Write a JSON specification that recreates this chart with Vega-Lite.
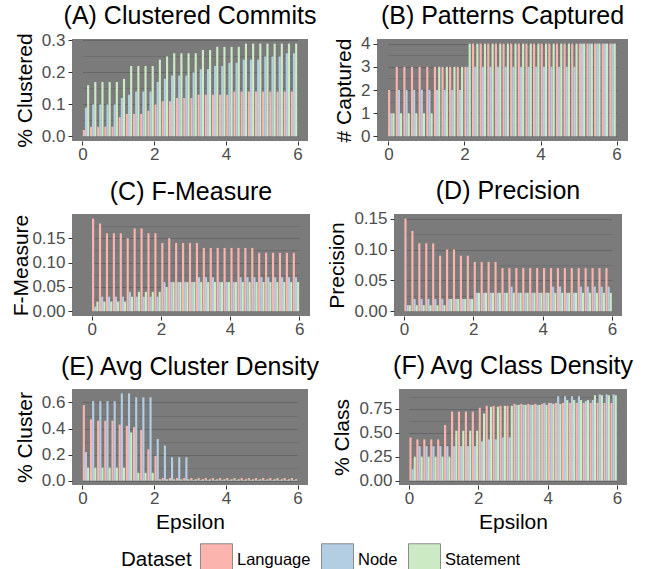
{
"$schema": "https://vega.github.io/schema/vega-lite/v6.json",
"padding": {"left": 10, "top": 4, "right": 5, "bottom": 5},
"config": {
  "font": "Liberation Sans",
  "view": {"fill": "#7b7b7b", "stroke": null},
  "axis": {"labelFont": "Liberation Sans", "titleFont": "Liberation Sans", "labelFontSize": 17, "labelColor": "#4d4d4d", "titleFontSize": 21, "titleFontWeight": "normal", "titleColor": "#000000", "tickColor": "#333333", "tickSize": 4, "tickWidth": 1, "domain": false, "gridColor": "#666666", "labelPadding": 1, "titlePadding": 5, "labelFlush": false, "labelOverlap": false},
  "axisY": {"labelPadding": 3, "titlePadding": 6},
  "title": {"font": "Liberation Sans", "fontSize": 25, "fontWeight": "normal", "color": "#000000", "frame": "group", "anchor": "middle", "baseline": "alphabetic"},
  "legend": {"labelFont": "Liberation Sans", "titleFont": "Liberation Sans"}
},
"datasets": {
"A": [
{"e":0.1,"d":"Language","v":0.02},{"e":0.3,"d":"Language","v":0.03},{"e":0.5,"d":"Language","v":0.03},{"e":0.7,"d":"Language","v":0.03},{"e":0.9,"d":"Language","v":0.03},{"e":1.1,"d":"Language","v":0.06},{"e":1.3,"d":"Language","v":0.07},{"e":1.5,"d":"Language","v":0.07},{"e":1.7,"d":"Language","v":0.07},{"e":1.9,"d":"Language","v":0.08},{"e":2.1,"d":"Language","v":0.10},{"e":2.3,"d":"Language","v":0.11},{"e":2.5,"d":"Language","v":0.11},{"e":2.7,"d":"Language","v":0.12},{"e":2.9,"d":"Language","v":0.12},{"e":3.1,"d":"Language","v":0.12},{"e":3.3,"d":"Language","v":0.13},{"e":3.5,"d":"Language","v":0.13},{"e":3.7,"d":"Language","v":0.13},{"e":3.9,"d":"Language","v":0.13},{"e":4.1,"d":"Language","v":0.13},{"e":4.3,"d":"Language","v":0.14},{"e":4.5,"d":"Language","v":0.14},{"e":4.7,"d":"Language","v":0.14},{"e":4.9,"d":"Language","v":0.14},{"e":5.1,"d":"Language","v":0.14},{"e":5.3,"d":"Language","v":0.14},{"e":5.5,"d":"Language","v":0.14},{"e":5.7,"d":"Language","v":0.14},{"e":5.9,"d":"Language","v":0.14},
{"e":0.1,"d":"Node","v":0.09},{"e":0.3,"d":"Node","v":0.10},{"e":0.5,"d":"Node","v":0.10},{"e":0.7,"d":"Node","v":0.10},{"e":0.9,"d":"Node","v":0.10},{"e":1.1,"d":"Node","v":0.12},{"e":1.3,"d":"Node","v":0.13},{"e":1.5,"d":"Node","v":0.14},{"e":1.7,"d":"Node","v":0.14},{"e":1.9,"d":"Node","v":0.14},{"e":2.1,"d":"Node","v":0.17},{"e":2.3,"d":"Node","v":0.18},{"e":2.5,"d":"Node","v":0.19},{"e":2.7,"d":"Node","v":0.19},{"e":2.9,"d":"Node","v":0.19},{"e":3.1,"d":"Node","v":0.20},{"e":3.3,"d":"Node","v":0.21},{"e":3.5,"d":"Node","v":0.21},{"e":3.7,"d":"Node","v":0.22},{"e":3.9,"d":"Node","v":0.22},{"e":4.1,"d":"Node","v":0.23},{"e":4.3,"d":"Node","v":0.23},{"e":4.5,"d":"Node","v":0.24},{"e":4.7,"d":"Node","v":0.24},{"e":4.9,"d":"Node","v":0.24},{"e":5.1,"d":"Node","v":0.25},{"e":5.3,"d":"Node","v":0.25},{"e":5.5,"d":"Node","v":0.25},{"e":5.7,"d":"Node","v":0.26},{"e":5.9,"d":"Node","v":0.26},
{"e":0.1,"d":"Statement","v":0.16},{"e":0.3,"d":"Statement","v":0.17},{"e":0.5,"d":"Statement","v":0.17},{"e":0.7,"d":"Statement","v":0.17},{"e":0.9,"d":"Statement","v":0.17},{"e":1.1,"d":"Statement","v":0.18},{"e":1.3,"d":"Statement","v":0.22},{"e":1.5,"d":"Statement","v":0.22},{"e":1.7,"d":"Statement","v":0.22},{"e":1.9,"d":"Statement","v":0.22},{"e":2.1,"d":"Statement","v":0.24},{"e":2.3,"d":"Statement","v":0.25},{"e":2.5,"d":"Statement","v":0.26},{"e":2.7,"d":"Statement","v":0.26},{"e":2.9,"d":"Statement","v":0.26},{"e":3.1,"d":"Statement","v":0.26},{"e":3.3,"d":"Statement","v":0.27},{"e":3.5,"d":"Statement","v":0.27},{"e":3.7,"d":"Statement","v":0.28},{"e":3.9,"d":"Statement","v":0.28},{"e":4.1,"d":"Statement","v":0.28},{"e":4.3,"d":"Statement","v":0.28},{"e":4.5,"d":"Statement","v":0.29},{"e":4.7,"d":"Statement","v":0.29},{"e":4.9,"d":"Statement","v":0.29},{"e":5.1,"d":"Statement","v":0.29},{"e":5.3,"d":"Statement","v":0.29},{"e":5.5,"d":"Statement","v":0.29},{"e":5.7,"d":"Statement","v":0.29},{"e":5.9,"d":"Statement","v":0.29}
],
"B": [
{"e":0.1,"d":"Language","v":2},{"e":0.3,"d":"Language","v":3},{"e":0.5,"d":"Language","v":3},{"e":0.7,"d":"Language","v":3},{"e":0.9,"d":"Language","v":3},{"e":1.1,"d":"Language","v":3},{"e":1.3,"d":"Language","v":3},{"e":1.5,"d":"Language","v":3},{"e":1.7,"d":"Language","v":3},{"e":1.9,"d":"Language","v":3},{"e":2.1,"d":"Language","v":3},{"e":2.3,"d":"Language","v":4},{"e":2.5,"d":"Language","v":4},{"e":2.7,"d":"Language","v":4},{"e":2.9,"d":"Language","v":4},{"e":3.1,"d":"Language","v":4},{"e":3.3,"d":"Language","v":4},{"e":3.5,"d":"Language","v":4},{"e":3.7,"d":"Language","v":4},{"e":3.9,"d":"Language","v":4},{"e":4.1,"d":"Language","v":4},{"e":4.3,"d":"Language","v":4},{"e":4.5,"d":"Language","v":4},{"e":4.7,"d":"Language","v":4},{"e":4.9,"d":"Language","v":4},{"e":5.1,"d":"Language","v":4},{"e":5.3,"d":"Language","v":4},{"e":5.5,"d":"Language","v":4},{"e":5.7,"d":"Language","v":4},{"e":5.9,"d":"Language","v":4},
{"e":0.1,"d":"Node","v":1},{"e":0.3,"d":"Node","v":2},{"e":0.5,"d":"Node","v":2},{"e":0.7,"d":"Node","v":2},{"e":0.9,"d":"Node","v":2},{"e":1.1,"d":"Node","v":2},{"e":1.3,"d":"Node","v":2},{"e":1.5,"d":"Node","v":2},{"e":1.7,"d":"Node","v":2},{"e":1.9,"d":"Node","v":2},{"e":2.1,"d":"Node","v":3},{"e":2.3,"d":"Node","v":3},{"e":2.5,"d":"Node","v":3},{"e":2.7,"d":"Node","v":3},{"e":2.9,"d":"Node","v":3},{"e":3.1,"d":"Node","v":3},{"e":3.3,"d":"Node","v":3},{"e":3.5,"d":"Node","v":3},{"e":3.7,"d":"Node","v":3},{"e":3.9,"d":"Node","v":3},{"e":4.1,"d":"Node","v":3},{"e":4.3,"d":"Node","v":3},{"e":4.5,"d":"Node","v":3},{"e":4.7,"d":"Node","v":3},{"e":4.9,"d":"Node","v":3},{"e":5.1,"d":"Node","v":4},{"e":5.3,"d":"Node","v":4},{"e":5.5,"d":"Node","v":4},{"e":5.7,"d":"Node","v":4},{"e":5.9,"d":"Node","v":4},
{"e":0.1,"d":"Statement","v":1},{"e":0.3,"d":"Statement","v":1},{"e":0.5,"d":"Statement","v":1},{"e":0.7,"d":"Statement","v":1},{"e":0.9,"d":"Statement","v":1},{"e":1.1,"d":"Statement","v":1},{"e":1.3,"d":"Statement","v":3},{"e":1.5,"d":"Statement","v":3},{"e":1.7,"d":"Statement","v":3},{"e":1.9,"d":"Statement","v":3},{"e":2.1,"d":"Statement","v":4},{"e":2.3,"d":"Statement","v":4},{"e":2.5,"d":"Statement","v":4},{"e":2.7,"d":"Statement","v":4},{"e":2.9,"d":"Statement","v":4},{"e":3.1,"d":"Statement","v":4},{"e":3.3,"d":"Statement","v":4},{"e":3.5,"d":"Statement","v":4},{"e":3.7,"d":"Statement","v":4},{"e":3.9,"d":"Statement","v":4},{"e":4.1,"d":"Statement","v":4},{"e":4.3,"d":"Statement","v":4},{"e":4.5,"d":"Statement","v":4},{"e":4.7,"d":"Statement","v":4},{"e":4.9,"d":"Statement","v":4},{"e":5.1,"d":"Statement","v":4},{"e":5.3,"d":"Statement","v":4},{"e":5.5,"d":"Statement","v":4},{"e":5.7,"d":"Statement","v":4},{"e":5.9,"d":"Statement","v":4}
],
"C": [
{"e":0.1,"d":"Language","v":0.19},{"e":0.3,"d":"Language","v":0.18},{"e":0.5,"d":"Language","v":0.16},{"e":0.7,"d":"Language","v":0.16},{"e":0.9,"d":"Language","v":0.16},{"e":1.1,"d":"Language","v":0.15},{"e":1.3,"d":"Language","v":0.17},{"e":1.5,"d":"Language","v":0.17},{"e":1.7,"d":"Language","v":0.16},{"e":1.9,"d":"Language","v":0.16},{"e":2.1,"d":"Language","v":0.14},{"e":2.3,"d":"Language","v":0.15},{"e":2.5,"d":"Language","v":0.14},{"e":2.7,"d":"Language","v":0.14},{"e":2.9,"d":"Language","v":0.14},{"e":3.1,"d":"Language","v":0.14},{"e":3.3,"d":"Language","v":0.13},{"e":3.5,"d":"Language","v":0.13},{"e":3.7,"d":"Language","v":0.13},{"e":3.9,"d":"Language","v":0.13},{"e":4.1,"d":"Language","v":0.13},{"e":4.3,"d":"Language","v":0.13},{"e":4.5,"d":"Language","v":0.13},{"e":4.7,"d":"Language","v":0.13},{"e":4.9,"d":"Language","v":0.12},{"e":5.1,"d":"Language","v":0.12},{"e":5.3,"d":"Language","v":0.12},{"e":5.5,"d":"Language","v":0.12},{"e":5.7,"d":"Language","v":0.12},{"e":5.9,"d":"Language","v":0.12},
{"e":0.1,"d":"Node","v":0.01},{"e":0.3,"d":"Node","v":0.03},{"e":0.5,"d":"Node","v":0.03},{"e":0.7,"d":"Node","v":0.03},{"e":0.9,"d":"Node","v":0.03},{"e":1.1,"d":"Node","v":0.04},{"e":1.3,"d":"Node","v":0.03},{"e":1.5,"d":"Node","v":0.03},{"e":1.7,"d":"Node","v":0.03},{"e":1.9,"d":"Node","v":0.03},{"e":2.1,"d":"Node","v":0.06},{"e":2.3,"d":"Node","v":0.06},{"e":2.5,"d":"Node","v":0.06},{"e":2.7,"d":"Node","v":0.06},{"e":2.9,"d":"Node","v":0.06},{"e":3.1,"d":"Node","v":0.07},{"e":3.3,"d":"Node","v":0.07},{"e":3.5,"d":"Node","v":0.07},{"e":3.7,"d":"Node","v":0.06},{"e":3.9,"d":"Node","v":0.06},{"e":4.1,"d":"Node","v":0.06},{"e":4.3,"d":"Node","v":0.07},{"e":4.5,"d":"Node","v":0.07},{"e":4.7,"d":"Node","v":0.07},{"e":4.9,"d":"Node","v":0.07},{"e":5.1,"d":"Node","v":0.07},{"e":5.3,"d":"Node","v":0.07},{"e":5.5,"d":"Node","v":0.07},{"e":5.7,"d":"Node","v":0.07},{"e":5.9,"d":"Node","v":0.07},
{"e":0.1,"d":"Statement","v":0.02},{"e":0.3,"d":"Statement","v":0.02},{"e":0.5,"d":"Statement","v":0.02},{"e":0.7,"d":"Statement","v":0.02},{"e":0.9,"d":"Statement","v":0.02},{"e":1.1,"d":"Statement","v":0.03},{"e":1.3,"d":"Statement","v":0.04},{"e":1.5,"d":"Statement","v":0.04},{"e":1.7,"d":"Statement","v":0.04},{"e":1.9,"d":"Statement","v":0.04},{"e":2.1,"d":"Statement","v":0.05},{"e":2.3,"d":"Statement","v":0.06},{"e":2.5,"d":"Statement","v":0.06},{"e":2.7,"d":"Statement","v":0.06},{"e":2.9,"d":"Statement","v":0.06},{"e":3.1,"d":"Statement","v":0.06},{"e":3.3,"d":"Statement","v":0.06},{"e":3.5,"d":"Statement","v":0.06},{"e":3.7,"d":"Statement","v":0.06},{"e":3.9,"d":"Statement","v":0.06},{"e":4.1,"d":"Statement","v":0.06},{"e":4.3,"d":"Statement","v":0.06},{"e":4.5,"d":"Statement","v":0.06},{"e":4.7,"d":"Statement","v":0.06},{"e":4.9,"d":"Statement","v":0.06},{"e":5.1,"d":"Statement","v":0.06},{"e":5.3,"d":"Statement","v":0.06},{"e":5.5,"d":"Statement","v":0.06},{"e":5.7,"d":"Statement","v":0.06},{"e":5.9,"d":"Statement","v":0.06}
],
"D": [
{"e":0.1,"d":"Language","v":0.15},{"e":0.3,"d":"Language","v":0.13},{"e":0.5,"d":"Language","v":0.11},{"e":0.7,"d":"Language","v":0.11},{"e":0.9,"d":"Language","v":0.11},{"e":1.1,"d":"Language","v":0.09},{"e":1.3,"d":"Language","v":0.10},{"e":1.5,"d":"Language","v":0.10},{"e":1.7,"d":"Language","v":0.09},{"e":1.9,"d":"Language","v":0.09},{"e":2.1,"d":"Language","v":0.08},{"e":2.3,"d":"Language","v":0.08},{"e":2.5,"d":"Language","v":0.08},{"e":2.7,"d":"Language","v":0.08},{"e":2.9,"d":"Language","v":0.07},{"e":3.1,"d":"Language","v":0.07},{"e":3.3,"d":"Language","v":0.07},{"e":3.5,"d":"Language","v":0.07},{"e":3.7,"d":"Language","v":0.07},{"e":3.9,"d":"Language","v":0.07},{"e":4.1,"d":"Language","v":0.07},{"e":4.3,"d":"Language","v":0.07},{"e":4.5,"d":"Language","v":0.07},{"e":4.7,"d":"Language","v":0.07},{"e":4.9,"d":"Language","v":0.07},{"e":5.1,"d":"Language","v":0.07},{"e":5.3,"d":"Language","v":0.07},{"e":5.5,"d":"Language","v":0.07},{"e":5.7,"d":"Language","v":0.07},{"e":5.9,"d":"Language","v":0.07},
{"e":0.1,"d":"Node","v":0.01},{"e":0.3,"d":"Node","v":0.02},{"e":0.5,"d":"Node","v":0.02},{"e":0.7,"d":"Node","v":0.02},{"e":0.9,"d":"Node","v":0.02},{"e":1.1,"d":"Node","v":0.02},{"e":1.3,"d":"Node","v":0.02},{"e":1.5,"d":"Node","v":0.02},{"e":1.7,"d":"Node","v":0.02},{"e":1.9,"d":"Node","v":0.02},{"e":2.1,"d":"Node","v":0.03},{"e":2.3,"d":"Node","v":0.03},{"e":2.5,"d":"Node","v":0.03},{"e":2.7,"d":"Node","v":0.03},{"e":2.9,"d":"Node","v":0.03},{"e":3.1,"d":"Node","v":0.04},{"e":3.3,"d":"Node","v":0.03},{"e":3.5,"d":"Node","v":0.03},{"e":3.7,"d":"Node","v":0.03},{"e":3.9,"d":"Node","v":0.03},{"e":4.1,"d":"Node","v":0.03},{"e":4.3,"d":"Node","v":0.04},{"e":4.5,"d":"Node","v":0.04},{"e":4.7,"d":"Node","v":0.03},{"e":4.9,"d":"Node","v":0.03},{"e":5.1,"d":"Node","v":0.04},{"e":5.3,"d":"Node","v":0.04},{"e":5.5,"d":"Node","v":0.04},{"e":5.7,"d":"Node","v":0.04},{"e":5.9,"d":"Node","v":0.04},
{"e":0.1,"d":"Statement","v":0.01},{"e":0.3,"d":"Statement","v":0.01},{"e":0.5,"d":"Statement","v":0.01},{"e":0.7,"d":"Statement","v":0.01},{"e":0.9,"d":"Statement","v":0.01},{"e":1.1,"d":"Statement","v":0.01},{"e":1.3,"d":"Statement","v":0.02},{"e":1.5,"d":"Statement","v":0.02},{"e":1.7,"d":"Statement","v":0.02},{"e":1.9,"d":"Statement","v":0.02},{"e":2.1,"d":"Statement","v":0.03},{"e":2.3,"d":"Statement","v":0.03},{"e":2.5,"d":"Statement","v":0.03},{"e":2.7,"d":"Statement","v":0.03},{"e":2.9,"d":"Statement","v":0.03},{"e":3.1,"d":"Statement","v":0.03},{"e":3.3,"d":"Statement","v":0.03},{"e":3.5,"d":"Statement","v":0.03},{"e":3.7,"d":"Statement","v":0.03},{"e":3.9,"d":"Statement","v":0.03},{"e":4.1,"d":"Statement","v":0.03},{"e":4.3,"d":"Statement","v":0.03},{"e":4.5,"d":"Statement","v":0.03},{"e":4.7,"d":"Statement","v":0.03},{"e":4.9,"d":"Statement","v":0.03},{"e":5.1,"d":"Statement","v":0.03},{"e":5.3,"d":"Statement","v":0.03},{"e":5.5,"d":"Statement","v":0.03},{"e":5.7,"d":"Statement","v":0.03},{"e":5.9,"d":"Statement","v":0.03}
],
"E": [
{"e":0.1,"d":"Language","v":0.58},{"e":0.3,"d":"Language","v":0.47},{"e":0.5,"d":"Language","v":0.46},{"e":0.7,"d":"Language","v":0.46},{"e":0.9,"d":"Language","v":0.46},{"e":1.1,"d":"Language","v":0.43},{"e":1.3,"d":"Language","v":0.42},{"e":1.5,"d":"Language","v":0.41},{"e":1.7,"d":"Language","v":0.39},{"e":1.9,"d":"Language","v":0.24},{"e":2.1,"d":"Language","v":0.19},{"e":2.3,"d":"Language","v":0.02},{"e":2.5,"d":"Language","v":0.02},{"e":2.7,"d":"Language","v":0.02},{"e":2.9,"d":"Language","v":0.02},{"e":3.1,"d":"Language","v":0.02},{"e":3.3,"d":"Language","v":0.02},{"e":3.5,"d":"Language","v":0.02},{"e":3.7,"d":"Language","v":0.02},{"e":3.9,"d":"Language","v":0.02},{"e":4.1,"d":"Language","v":0.02},{"e":4.3,"d":"Language","v":0.02},{"e":4.5,"d":"Language","v":0.02},{"e":4.7,"d":"Language","v":0.02},{"e":4.9,"d":"Language","v":0.02},{"e":5.1,"d":"Language","v":0.02},{"e":5.3,"d":"Language","v":0.02},{"e":5.5,"d":"Language","v":0.02},{"e":5.7,"d":"Language","v":0.02},{"e":5.9,"d":"Language","v":0.02},
{"e":0.1,"d":"Node","v":0.22},{"e":0.3,"d":"Node","v":0.61},{"e":0.5,"d":"Node","v":0.61},{"e":0.7,"d":"Node","v":0.61},{"e":0.9,"d":"Node","v":0.61},{"e":1.1,"d":"Node","v":0.67},{"e":1.3,"d":"Node","v":0.67},{"e":1.5,"d":"Node","v":0.64},{"e":1.7,"d":"Node","v":0.64},{"e":1.9,"d":"Node","v":0.64},{"e":2.1,"d":"Node","v":0.32},{"e":2.3,"d":"Node","v":0.27},{"e":2.5,"d":"Node","v":0.18},{"e":2.7,"d":"Node","v":0.18},{"e":2.9,"d":"Node","v":0.18},{"e":3.1,"d":"Node","v":0.005},{"e":3.3,"d":"Node","v":0.005},{"e":3.5,"d":"Node","v":0.005},{"e":3.7,"d":"Node","v":0.005},{"e":3.9,"d":"Node","v":0.005},{"e":4.1,"d":"Node","v":0.005},{"e":4.3,"d":"Node","v":0.005},{"e":4.5,"d":"Node","v":0.005},{"e":4.7,"d":"Node","v":0.005},{"e":4.9,"d":"Node","v":0.005},{"e":5.1,"d":"Node","v":0.005},{"e":5.3,"d":"Node","v":0.005},{"e":5.5,"d":"Node","v":0.005},{"e":5.7,"d":"Node","v":0.005},{"e":5.9,"d":"Node","v":0.005},
{"e":0.1,"d":"Statement","v":0.10},{"e":0.3,"d":"Statement","v":0.10},{"e":0.5,"d":"Statement","v":0.10},{"e":0.7,"d":"Statement","v":0.10},{"e":0.9,"d":"Statement","v":0.10},{"e":1.1,"d":"Statement","v":0.10},{"e":1.3,"d":"Statement","v":0.37},{"e":1.5,"d":"Statement","v":0.06},{"e":1.7,"d":"Statement","v":0.06},{"e":1.9,"d":"Statement","v":0.06},{"e":2.1,"d":"Statement","v":0.01},{"e":2.3,"d":"Statement","v":0.01},{"e":2.5,"d":"Statement","v":0.01},{"e":2.7,"d":"Statement","v":0.01},{"e":2.9,"d":"Statement","v":0.01},{"e":3.1,"d":"Statement","v":0.01},{"e":3.3,"d":"Statement","v":0.01},{"e":3.5,"d":"Statement","v":0.01},{"e":3.7,"d":"Statement","v":0.01},{"e":3.9,"d":"Statement","v":0.01},{"e":4.1,"d":"Statement","v":0.01},{"e":4.3,"d":"Statement","v":0.01},{"e":4.5,"d":"Statement","v":0.01},{"e":4.7,"d":"Statement","v":0.01},{"e":4.9,"d":"Statement","v":0.01},{"e":5.1,"d":"Statement","v":0.01},{"e":5.3,"d":"Statement","v":0.01},{"e":5.5,"d":"Statement","v":0.01},{"e":5.7,"d":"Statement","v":0.01},{"e":5.9,"d":"Statement","v":0.01}
],
"F": [
{"e":0.1,"d":"Language","v":0.45},{"e":0.3,"d":"Language","v":0.43},{"e":0.5,"d":"Language","v":0.43},{"e":0.7,"d":"Language","v":0.43},{"e":0.9,"d":"Language","v":0.43},{"e":1.1,"d":"Language","v":0.58},{"e":1.3,"d":"Language","v":0.72},{"e":1.5,"d":"Language","v":0.72},{"e":1.7,"d":"Language","v":0.72},{"e":1.9,"d":"Language","v":0.72},{"e":2.1,"d":"Language","v":0.76},{"e":2.3,"d":"Language","v":0.78},{"e":2.5,"d":"Language","v":0.78},{"e":2.7,"d":"Language","v":0.78},{"e":2.9,"d":"Language","v":0.78},{"e":3.1,"d":"Language","v":0.80},{"e":3.3,"d":"Language","v":0.80},{"e":3.5,"d":"Language","v":0.80},{"e":3.7,"d":"Language","v":0.80},{"e":3.9,"d":"Language","v":0.80},{"e":4.1,"d":"Language","v":0.81},{"e":4.3,"d":"Language","v":0.81},{"e":4.5,"d":"Language","v":0.81},{"e":4.7,"d":"Language","v":0.81},{"e":4.9,"d":"Language","v":0.81},{"e":5.1,"d":"Language","v":0.81},{"e":5.3,"d":"Language","v":0.81},{"e":5.5,"d":"Language","v":0.81},{"e":5.7,"d":"Language","v":0.81},{"e":5.9,"d":"Language","v":0.81},
{"e":0.1,"d":"Node","v":0.12},{"e":0.3,"d":"Node","v":0.36},{"e":0.5,"d":"Node","v":0.36},{"e":0.7,"d":"Node","v":0.36},{"e":0.9,"d":"Node","v":0.36},{"e":1.1,"d":"Node","v":0.36},{"e":1.3,"d":"Node","v":0.36},{"e":1.5,"d":"Node","v":0.36},{"e":1.7,"d":"Node","v":0.36},{"e":1.9,"d":"Node","v":0.36},{"e":2.1,"d":"Node","v":0.41},{"e":2.3,"d":"Node","v":0.43},{"e":2.5,"d":"Node","v":0.43},{"e":2.7,"d":"Node","v":0.45},{"e":2.9,"d":"Node","v":0.45},{"e":3.1,"d":"Node","v":0.79},{"e":3.3,"d":"Node","v":0.79},{"e":3.5,"d":"Node","v":0.79},{"e":3.7,"d":"Node","v":0.79},{"e":3.9,"d":"Node","v":0.81},{"e":4.1,"d":"Node","v":0.81},{"e":4.3,"d":"Node","v":0.88},{"e":4.5,"d":"Node","v":0.88},{"e":4.7,"d":"Node","v":0.88},{"e":4.9,"d":"Node","v":0.88},{"e":5.1,"d":"Node","v":0.83},{"e":5.3,"d":"Node","v":0.84},{"e":5.5,"d":"Node","v":0.90},{"e":5.7,"d":"Node","v":0.90},{"e":5.9,"d":"Node","v":0.90},
{"e":0.1,"d":"Statement","v":0.25},{"e":0.3,"d":"Statement","v":0.25},{"e":0.5,"d":"Statement","v":0.25},{"e":0.7,"d":"Statement","v":0.25},{"e":0.9,"d":"Statement","v":0.25},{"e":1.1,"d":"Statement","v":0.25},{"e":1.3,"d":"Statement","v":0.52},{"e":1.5,"d":"Statement","v":0.52},{"e":1.7,"d":"Statement","v":0.52},{"e":1.9,"d":"Statement","v":0.52},{"e":2.1,"d":"Statement","v":0.70},{"e":2.3,"d":"Statement","v":0.77},{"e":2.5,"d":"Statement","v":0.77},{"e":2.7,"d":"Statement","v":0.78},{"e":2.9,"d":"Statement","v":0.78},{"e":3.1,"d":"Statement","v":0.79},{"e":3.3,"d":"Statement","v":0.79},{"e":3.5,"d":"Statement","v":0.79},{"e":3.7,"d":"Statement","v":0.79},{"e":3.9,"d":"Statement","v":0.79},{"e":4.1,"d":"Statement","v":0.80},{"e":4.3,"d":"Statement","v":0.80},{"e":4.5,"d":"Statement","v":0.84},{"e":4.7,"d":"Statement","v":0.84},{"e":4.9,"d":"Statement","v":0.84},{"e":5.1,"d":"Statement","v":0.84},{"e":5.3,"d":"Statement","v":0.89},{"e":5.5,"d":"Statement","v":0.89},{"e":5.7,"d":"Statement","v":0.89},{"e":5.9,"d":"Statement","v":0.89}
]
},
"vconcat": [
{"hconcat": [
{"width": 236, "height": 102, "title": {"text": "(A) Clustered Commits", "offset": 2.4}, "data": {"name": "A"},
 "layer": [
  {"mark": {"type": "bar"}, "encoding": {
    "x": {"field": "e", "type": "ordinal", "scale": {"range": [10.4, 225.6], "paddingInner": 0.1, "paddingOuter": 0.05}, "axis": null},
    "xOffset": {"field": "d", "type": "nominal", "scale": {"domain": ["Language", "Node", "Statement"], "paddingInner": 0, "paddingOuter": 0}},
    "y": {"field": "v", "type": "quantitative", "scale": {"domain": [-0.0145, 0.3045], "nice": false, "zero": false}, "axis": {"title": "% Clustered", "values": [0, 0.05, 0.1, 0.15, 0.2, 0.25, 0.3], "labelExpr": "abs(datum.value*10 - round(datum.value*10)) < 1e-6 ? format(datum.value, '.1f') : ''", "tickOpacity": {"condition": {"test": "abs(datum.value*10 - round(datum.value*10)) < 1e-6", "value": 1}, "value": 0}, "gridWidth": {"condition": {"test": "abs(datum.value*10 - round(datum.value*10)) < 1e-6", "value": 1.2}, "value": 0.6}}},
    "y2": {"datum": 0},
    "color": {"field": "d", "type": "nominal", "scale": {"domain": ["Language", "Node", "Statement"], "range": ["#FBB4AE", "#B3CDE3", "#CCEBC5"]}, "legend": {"title": "Dataset", "orient": "none", "legendX": 49, "legendY": 504, "direction": "horizontal", "titleOrient": "left", "titleFontSize": 20.5, "titleFontWeight": "normal", "titleColor": "#000000", "titlePadding": 8, "titleBaseline": "middle", "labelFontSize": 16.5, "labelColor": "#000000", "labelOffset": 4, "columnPadding": 8, "symbolType": "square", "symbolSize": 1024, "symbolStrokeColor": "#8c8c8c", "symbolStrokeWidth": 1, "encode": {"symbols": {"update": {"stroke": {"value": "#8c8c8c"}, "strokeWidth": {"value": 1}}}}}}
  }},
  {"mark": {"type": "point", "opacity": 0}, "encoding": {
    "x": {"field": "e", "type": "quantitative", "scale": {"domain": [-0.29, 6.29], "nice": false, "zero": false}, "axis": {"title": null, "values": [0, 1, 2, 3, 4, 5, 6], "labelExpr": "datum.value % 2 == 0 ? format(datum.value, 'd') : ''", "tickOpacity": {"condition": {"test": "datum.value % 2 == 0", "value": 1}, "value": 0}, "gridWidth": {"condition": {"test": "datum.value % 2 == 0", "value": 1.2}, "value": 0.6}}}
  }}
 ],
 "resolve": {"scale": {"x": "independent"}}
},
{"width": 251, "height": 102, "title": {"text": "(B) Patterns Captured", "offset": 5.6}, "data": {"name": "B"},
 "layer": [
  {"mark": {"type": "bar"}, "encoding": {
    "x": {"field": "e", "type": "ordinal", "scale": {"range": [11.06, 239.94], "paddingInner": 0, "paddingOuter": 0}, "axis": null},
    "xOffset": {"field": "d", "type": "nominal", "scale": {"domain": ["Language", "Node", "Statement"], "paddingInner": 0, "paddingOuter": 0}},
    "y": {"field": "v", "type": "quantitative", "scale": {"domain": [-0.2, 4.2], "nice": false, "zero": false}, "axis": {"title": "# Captured", "values": [0, 0.5, 1, 1.5, 2, 2.5, 3, 3.5, 4], "labelExpr": "datum.value % 1 == 0 ? format(datum.value, 'd') : ''", "tickOpacity": {"condition": {"test": "datum.value % 1 == 0", "value": 1}, "value": 0}, "gridWidth": {"condition": {"test": "datum.value % 1 == 0", "value": 1.2}, "value": 0.6}}},
    "y2": {"datum": 0},
    "color": {"field": "d", "type": "nominal", "scale": {"domain": ["Language", "Node", "Statement"], "range": ["#FBB4AE", "#B3CDE3", "#CCEBC5"]}, "legend": {"title": "Dataset", "orient": "none", "legendX": 49, "legendY": 504, "direction": "horizontal", "titleOrient": "left", "titleFontSize": 20.5, "titleFontWeight": "normal", "titleColor": "#000000", "titlePadding": 8, "titleBaseline": "middle", "labelFontSize": 16.5, "labelColor": "#000000", "labelOffset": 4, "columnPadding": 8, "symbolType": "square", "symbolSize": 1024, "symbolStrokeColor": "#8c8c8c", "symbolStrokeWidth": 1, "encode": {"symbols": {"update": {"stroke": {"value": "#8c8c8c"}, "strokeWidth": {"value": 1}}}}}}
  }},
  {"mark": {"type": "point", "opacity": 0}, "encoding": {
    "x": {"field": "e", "type": "quantitative", "scale": {"domain": [-0.3, 6.3], "nice": false, "zero": false}, "axis": {"title": null, "values": [0, 1, 2, 3, 4, 5, 6], "labelExpr": "datum.value % 2 == 0 ? format(datum.value, 'd') : ''", "tickOpacity": {"condition": {"test": "datum.value % 2 == 0", "value": 1}, "value": 0}, "gridWidth": {"condition": {"test": "datum.value % 2 == 0", "value": 1.2}, "value": 0.6}}}
  }}
 ],
 "resolve": {"scale": {"x": "independent"}}
}
], "spacing": 16},
{"hconcat": [
{"width": 238, "height": 102, "title": {"text": "(C) F-Measure", "offset": 9.5}, "data": {"name": "C"},
 "layer": [
  {"mark": {"type": "bar"}, "encoding": {
    "x": {"field": "e", "type": "ordinal", "scale": {"range": [19.7, 227.3], "paddingInner": 0.1, "paddingOuter": 0.05}, "axis": null},
    "xOffset": {"field": "d", "type": "nominal", "scale": {"domain": ["Language", "Node", "Statement"], "paddingInner": 0, "paddingOuter": 0}},
    "y": {"field": "v", "type": "quantitative", "scale": {"domain": [-0.0095, 0.1995], "nice": false, "zero": false}, "axis": {"title": "F-Measure", "titlePadding": 0, "values": [0, 0.025, 0.05, 0.075, 0.1, 0.125, 0.15, 0.175], "labelExpr": "abs(datum.value*20 - round(datum.value*20)) < 1e-6 ? format(datum.value, '.2f') : ''", "tickOpacity": {"condition": {"test": "abs(datum.value*20 - round(datum.value*20)) < 1e-6", "value": 1}, "value": 0}, "gridWidth": {"condition": {"test": "abs(datum.value*20 - round(datum.value*20)) < 1e-6", "value": 1.2}, "value": 0.6}}},
    "y2": {"datum": 0},
    "color": {"field": "d", "type": "nominal", "scale": {"domain": ["Language", "Node", "Statement"], "range": ["#FBB4AE", "#B3CDE3", "#CCEBC5"]}, "legend": {"title": "Dataset", "orient": "none", "legendX": 49, "legendY": 504, "direction": "horizontal", "titleOrient": "left", "titleFontSize": 20.5, "titleFontWeight": "normal", "titleColor": "#000000", "titlePadding": 8, "titleBaseline": "middle", "labelFontSize": 16.5, "labelColor": "#000000", "labelOffset": 4, "columnPadding": 8, "symbolType": "square", "symbolSize": 1024, "symbolStrokeColor": "#8c8c8c", "symbolStrokeWidth": 1, "encode": {"symbols": {"update": {"stroke": {"value": "#8c8c8c"}, "strokeWidth": {"value": 1}}}}}}
  }},
  {"mark": {"type": "point", "opacity": 0}, "encoding": {
    "x": {"field": "e", "type": "quantitative", "scale": {"domain": [-0.569, 6.309], "nice": false, "zero": false}, "axis": {"title": null, "values": [0, 1, 2, 3, 4, 5, 6], "labelExpr": "datum.value % 2 == 0 ? format(datum.value, 'd') : ''", "tickOpacity": {"condition": {"test": "datum.value % 2 == 0", "value": 1}, "value": 0}, "gridWidth": {"condition": {"test": "datum.value % 2 == 0", "value": 1.2}, "value": 0.6}}}
  }}
 ],
 "resolve": {"scale": {"x": "independent"}}
},
{"width": 228, "height": 102, "title": {"text": "(D) Precision", "offset": 5.6}, "data": {"name": "D"},
 "layer": [
  {"mark": {"type": "bar"}, "encoding": {
    "x": {"field": "e", "type": "ordinal", "scale": {"range": [10.05, 217.95], "paddingInner": 0.1, "paddingOuter": 0.05}, "axis": null},
    "xOffset": {"field": "d", "type": "nominal", "scale": {"domain": ["Language", "Node", "Statement"], "paddingInner": 0, "paddingOuter": 0}},
    "y": {"field": "v", "type": "quantitative", "scale": {"domain": [-0.0075, 0.1575], "nice": false, "zero": false}, "axis": {"title": "Precision", "values": [0, 0.025, 0.05, 0.075, 0.1, 0.125, 0.15], "labelExpr": "abs(datum.value*20 - round(datum.value*20)) < 1e-6 ? format(datum.value, '.2f') : ''", "tickOpacity": {"condition": {"test": "abs(datum.value*20 - round(datum.value*20)) < 1e-6", "value": 1}, "value": 0}, "gridWidth": {"condition": {"test": "abs(datum.value*20 - round(datum.value*20)) < 1e-6", "value": 1.2}, "value": 0.6}}},
    "y2": {"datum": 0},
    "color": {"field": "d", "type": "nominal", "scale": {"domain": ["Language", "Node", "Statement"], "range": ["#FBB4AE", "#B3CDE3", "#CCEBC5"]}, "legend": {"title": "Dataset", "orient": "none", "legendX": 49, "legendY": 504, "direction": "horizontal", "titleOrient": "left", "titleFontSize": 20.5, "titleFontWeight": "normal", "titleColor": "#000000", "titlePadding": 8, "titleBaseline": "middle", "labelFontSize": 16.5, "labelColor": "#000000", "labelOffset": 4, "columnPadding": 8, "symbolType": "square", "symbolSize": 1024, "symbolStrokeColor": "#8c8c8c", "symbolStrokeWidth": 1, "encode": {"symbols": {"update": {"stroke": {"value": "#8c8c8c"}, "strokeWidth": {"value": 1}}}}}}
  }},
  {"mark": {"type": "point", "opacity": 0}, "encoding": {
    "x": {"field": "e", "type": "quantitative", "scale": {"domain": [-0.29, 6.29], "nice": false, "zero": false}, "axis": {"title": null, "values": [0, 1, 2, 3, 4, 5, 6], "labelExpr": "datum.value % 2 == 0 ? format(datum.value, 'd') : ''", "tickOpacity": {"condition": {"test": "datum.value % 2 == 0", "value": 1}, "value": 0}, "gridWidth": {"condition": {"test": "datum.value % 2 == 0", "value": 1.2}, "value": 0.6}}}
  }}
 ],
 "resolve": {"scale": {"x": "independent"}}
}
], "spacing": 16},
{"hconcat": [
{"width": 236, "height": 96, "title": {"text": "(E) Avg Cluster Density", "offset": 9.5}, "data": {"name": "E"},
 "layer": [
  {"mark": {"type": "bar"}, "encoding": {
    "x": {"field": "e", "type": "ordinal", "scale": {"range": [10.4, 225.6], "paddingInner": 0.1, "paddingOuter": 0.05}, "axis": null},
    "xOffset": {"field": "d", "type": "nominal", "scale": {"domain": ["Language", "Node", "Statement"], "paddingInner": 0, "paddingOuter": 0}},
    "y": {"field": "v", "type": "quantitative", "scale": {"domain": [-0.0335, 0.7035], "nice": false, "zero": false}, "axis": {"title": "% Cluster", "values": [0, 0.1, 0.2, 0.3, 0.4, 0.5, 0.6], "labelExpr": "abs(datum.value*5 - round(datum.value*5)) < 1e-6 ? format(datum.value, '.1f') : ''", "tickOpacity": {"condition": {"test": "abs(datum.value*5 - round(datum.value*5)) < 1e-6", "value": 1}, "value": 0}, "gridWidth": {"condition": {"test": "abs(datum.value*5 - round(datum.value*5)) < 1e-6", "value": 1.2}, "value": 0.6}}},
    "y2": {"datum": 0},
    "color": {"field": "d", "type": "nominal", "scale": {"domain": ["Language", "Node", "Statement"], "range": ["#FBB4AE", "#B3CDE3", "#CCEBC5"]}, "legend": {"title": "Dataset", "orient": "none", "legendX": 49, "legendY": 504, "direction": "horizontal", "titleOrient": "left", "titleFontSize": 20.5, "titleFontWeight": "normal", "titleColor": "#000000", "titlePadding": 8, "titleBaseline": "middle", "labelFontSize": 16.5, "labelColor": "#000000", "labelOffset": 4, "columnPadding": 8, "symbolType": "square", "symbolSize": 1024, "symbolStrokeColor": "#8c8c8c", "symbolStrokeWidth": 1, "encode": {"symbols": {"update": {"stroke": {"value": "#8c8c8c"}, "strokeWidth": {"value": 1}}}}}}
  }},
  {"mark": {"type": "point", "opacity": 0}, "encoding": {
    "x": {"field": "e", "type": "quantitative", "scale": {"domain": [-0.29, 6.29], "nice": false, "zero": false}, "axis": {"title": "Epsilon", "values": [0, 1, 2, 3, 4, 5, 6], "labelExpr": "datum.value % 2 == 0 ? format(datum.value, 'd') : ''", "tickOpacity": {"condition": {"test": "datum.value % 2 == 0", "value": 1}, "value": 0}, "gridWidth": {"condition": {"test": "datum.value % 2 == 0", "value": 1.2}, "value": 0.6}}}
  }}
 ],
 "resolve": {"scale": {"x": "independent"}}
},
{"width": 228, "height": 96, "title": {"text": "(F) Avg Class Density", "offset": 8.7}, "data": {"name": "F"},
 "layer": [
  {"mark": {"type": "bar"}, "encoding": {
    "x": {"field": "e", "type": "ordinal", "scale": {"range": [10.05, 217.95], "paddingInner": 0.1, "paddingOuter": 0.05}, "axis": null},
    "xOffset": {"field": "d", "type": "nominal", "scale": {"domain": ["Language", "Node", "Statement"], "paddingInner": 0, "paddingOuter": 0}},
    "y": {"field": "v", "type": "quantitative", "scale": {"domain": [-0.0455, 0.9555], "nice": false, "zero": false}, "axis": {"title": "% Class", "values": [0, 0.125, 0.25, 0.375, 0.5, 0.625, 0.75, 0.875], "labelExpr": "abs(datum.value*4 - round(datum.value*4)) < 1e-6 ? format(datum.value, '.2f') : ''", "tickOpacity": {"condition": {"test": "abs(datum.value*4 - round(datum.value*4)) < 1e-6", "value": 1}, "value": 0}, "gridWidth": {"condition": {"test": "abs(datum.value*4 - round(datum.value*4)) < 1e-6", "value": 1.2}, "value": 0.6}}},
    "y2": {"datum": 0},
    "color": {"field": "d", "type": "nominal", "scale": {"domain": ["Language", "Node", "Statement"], "range": ["#FBB4AE", "#B3CDE3", "#CCEBC5"]}, "legend": {"title": "Dataset", "orient": "none", "legendX": 49, "legendY": 504, "direction": "horizontal", "titleOrient": "left", "titleFontSize": 20.5, "titleFontWeight": "normal", "titleColor": "#000000", "titlePadding": 8, "titleBaseline": "middle", "labelFontSize": 16.5, "labelColor": "#000000", "labelOffset": 4, "columnPadding": 8, "symbolType": "square", "symbolSize": 1024, "symbolStrokeColor": "#8c8c8c", "symbolStrokeWidth": 1, "encode": {"symbols": {"update": {"stroke": {"value": "#8c8c8c"}, "strokeWidth": {"value": 1}}}}}}
  }},
  {"mark": {"type": "point", "opacity": 0}, "encoding": {
    "x": {"field": "e", "type": "quantitative", "scale": {"domain": [-0.29, 6.29], "nice": false, "zero": false}, "axis": {"title": "Epsilon", "values": [0, 1, 2, 3, 4, 5, 6], "labelExpr": "datum.value % 2 == 0 ? format(datum.value, 'd') : ''", "tickOpacity": {"condition": {"test": "datum.value % 2 == 0", "value": 1}, "value": 0}, "gridWidth": {"condition": {"test": "datum.value % 2 == 0", "value": 1.2}, "value": 0.6}}}
  }}
 ],
 "resolve": {"scale": {"x": "independent"}}
}
], "spacing": 11}
],
"spacing": 17
}
